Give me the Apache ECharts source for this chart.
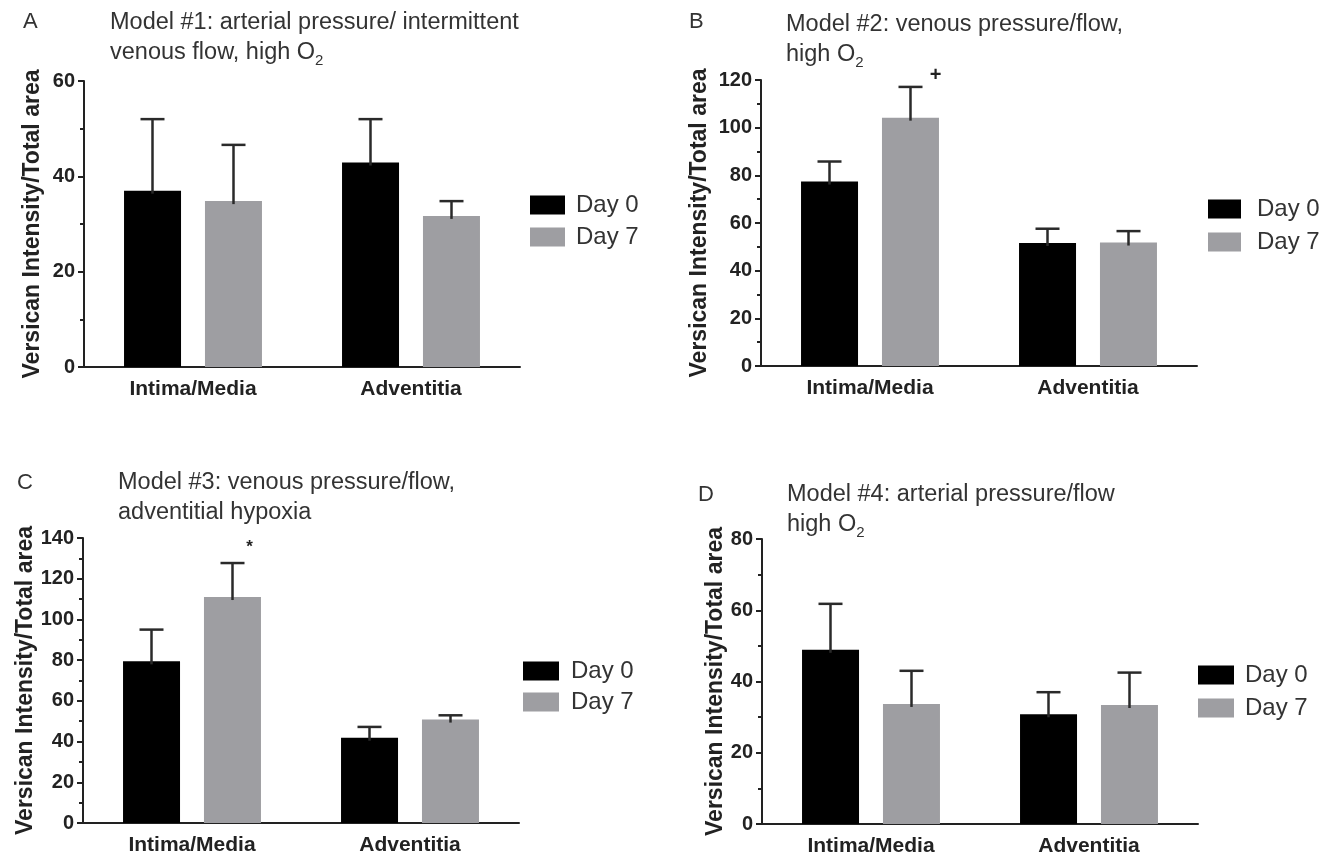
<!DOCTYPE html>
<html>
<head>
<meta charset="utf-8">
<script src="https://cdn.jsdelivr.net/npm/echarts@6/dist/echarts.min.js"></script>
<style>
html,body{margin:0;padding:0;background:#fff;}
#chart{width:1330px;height:859px;}
</style>
</head>
<body>
<div id="chart"></div>
<script>
// ---------------- data ----------------
const categories = ['Intima/Media', 'Adventitia'];
const seriesNames = ['Day 0', 'Day 7'];

const model1Day0 = [37.0, 42.9];
const model1Day0Err = [15.0, 9.1];
const model1Day7 = [34.8, 31.7];
const model1Day7Err = [11.8, 3.1];

const model2Day0 = [77.4, 51.6];
const model2Day0Err = [8.4, 6.0];
const model2Day7 = [104.2, 51.8];
const model2Day7Err = [12.9, 4.8];

const model3Day0 = [79.4, 41.9];
const model3Day0Err = [15.6, 5.3];
const model3Day7 = [111.0, 50.8];
const model3Day7Err = [16.7, 2.1];

const model4Day0 = [48.9, 30.8];
const model4Day0Err = [12.9, 6.2];
const model4Day7 = [33.7, 33.4];
const model4Day7Err = [9.3, 9.1];

const model2Day7Marks = ['+', ''];
const model3Day7Marks = ['*', ''];
const noMarks = ['', ''];

const yMaxes = [60, 120, 140, 80];
const yInterval = 20;
const panelLetters = ['A', 'B', 'C', 'D'];
const titleLine1 = ['Model #1: arterial pressure/ intermittent', 'Model #2: venous pressure/flow,', 'Model #3: venous pressure/flow,', 'Model #4: arterial pressure/flow'];
const titleLine2 = ['venous flow, high O', 'high O', 'adventitial hypoxia', 'high O'];
const titleSub = ['2', '2', '', '2'];
const yAxisName = 'Versican Intensity/Total area';

// ---------------- layout / style ----------------
const FONT = '"Liberation Sans", Arial, Helvetica, sans-serif';
const TXT = '#222';
const BLACK = '#000000';
const GRAY = '#9e9ea2';
const BAR_W = 57;
const BAR_GAP_PX = 24;
const HALF = (BAR_W + BAR_GAP_PX) / 2;

const grids = [
  {left: 84, top: 81, width: 436, height: 286},
  {left: 761, top: 80, width: 436, height: 286},
  {left: 83, top: 538, width: 436, height: 285},
  {left: 762, top: 539, width: 436, height: 285}
];
const nameGaps = [40, 50, 46, 30];
const letterPos = [{left: 18, top: 6}, {left: 684, top: 6}, {left: 12, top: 467}, {left: 693, top: 479}];
const titlePos = [{left: 105, top: 3}, {left: 781, top: 5}, {left: 113, top: 463}, {left: 782, top: 475}];
const legendPos = [
  {left: 525, top: 188, w: 35, gap: 8, pad: 6},
  {left: 1203, top: 192, w: 33, gap: 9, pad: 11},
  {left: 518, top: 654, w: 36, gap: 7, pad: 7},
  {left: 1193, top: 658, w: 36, gap: 9, pad: 6}
];
const markStyle = {
  '+': {dx: 25, dy: -11, size: 20},
  '*': {dx: 17, dy: -16, size: 17}
};

const panels = [
  {d0: model1Day0, e0: model1Day0Err, d7: model1Day7, e7: model1Day7Err, m7: noMarks},
  {d0: model2Day0, e0: model2Day0Err, d7: model2Day7, e7: model2Day7Err, m7: model2Day7Marks},
  {d0: model3Day0, e0: model3Day0Err, d7: model3Day7, e7: model3Day7Err, m7: model3Day7Marks},
  {d0: model4Day0, e0: model4Day0Err, d7: model4Day7, e7: model4Day7Err, m7: noMarks}
];

function errRenderer(offset, marks) {
  return function (params, api) {
    const c = api.value(0), v = api.value(1), e = api.value(2);
    const base = api.coord([c, v]);
    const top = api.coord([c, v + e]);
    const x = base[0] + offset;
    const st = {stroke: '#2a2a2a', lineWidth: 2.5};
    const children = [
      {type: 'line', shape: {x1: x, y1: base[1] + 3, x2: x, y2: top[1]}, style: st},
      {type: 'line', shape: {x1: x - 12, y1: top[1], x2: x + 12, y2: top[1]}, style: st}
    ];
    const m = marks[params.dataIndex];
    if (m) {
      const ms = markStyle[m];
      children.push({type: 'text', style: {text: m, x: x + ms.dx, y: top[1] + ms.dy, fill: TXT,
        font: 'bold ' + ms.size + 'px ' + FONT, textAlign: 'center', textVerticalAlign: 'middle'}});
    }
    return {type: 'group', children: children};
  };
}

const option = {
  backgroundColor: '#fff',
  animation: false,
  textStyle: {fontFamily: FONT},
  title: [],
  legend: [],
  grid: grids,
  xAxis: [],
  yAxis: [],
  series: []
};

panels.forEach(function (p, i) {
  option.title.push({text: panelLetters[i], left: letterPos[i].left, top: letterPos[i].top,
    textStyle: {fontSize: 22, fontWeight: 'normal', color: '#333', fontFamily: FONT}});
  const line2 = '{m|' + titleLine2[i] + '}' + (titleSub[i] ? '{s|' + titleSub[i] + '}' : '');
  option.title.push({text: '{m|' + titleLine1[i] + '}\n' + line2, left: titlePos[i].left, top: titlePos[i].top,
    textStyle: {fontWeight: 'normal', rich: {
      m: {fontSize: 23.5, lineHeight: 30, color: '#333', fontWeight: 'normal', fontFamily: FONT},
      s: {fontSize: 15, lineHeight: 17, verticalAlign: 'bottom', color: '#333', fontWeight: 'normal', fontFamily: FONT}
    }}});
  const lp = legendPos[i];
  option.legend.push({data: seriesNames, orient: 'vertical', left: lp.left, top: lp.top,
    itemWidth: lp.w, itemHeight: 19, itemGap: lp.gap, icon: 'rect', selectedMode: false,
    textStyle: {fontSize: 24, color: '#333', lineHeight: 24, fontFamily: FONT, padding: [0, 0, 0, lp.pad]}});
  option.xAxis.push({type: 'category', gridIndex: i, data: categories,
    axisLine: {lineStyle: {color: TXT, width: 2}},
    axisTick: {alignWithLabel: true, length: 5, lineStyle: {color: TXT, width: 2}},
    axisLabel: {fontSize: 21, fontWeight: 'bold', color: TXT, margin: 12, fontFamily: FONT}});
  option.yAxis.push({type: 'value', gridIndex: i, min: 0, max: yMaxes[i], interval: yInterval,
    name: yAxisName, nameLocation: 'middle', nameGap: nameGaps[i], nameRotate: 90,
    nameTextStyle: {fontSize: 23, fontWeight: 'bold', color: TXT, fontFamily: FONT},
    axisLine: {show: true, lineStyle: {color: TXT, width: 2}},
    axisTick: {show: true, length: 6, lineStyle: {color: TXT, width: 2}},
    minorTick: {show: true, splitNumber: 2, length: 4, lineStyle: {color: TXT, width: 2}},
    splitLine: {show: false},
    axisLabel: {fontSize: 20, fontWeight: 'bold', color: TXT, margin: 9, fontFamily: FONT}});
  option.series.push({name: seriesNames[0], type: 'bar', xAxisIndex: i, yAxisIndex: i, data: p.d0,
    barWidth: BAR_W, barGap: (BAR_GAP_PX / BAR_W * 100).toFixed(0) + '%', itemStyle: {color: BLACK}});
  option.series.push({name: seriesNames[1], type: 'bar', xAxisIndex: i, yAxisIndex: i, data: p.d7,
    barWidth: BAR_W, barGap: (BAR_GAP_PX / BAR_W * 100).toFixed(0) + '%', itemStyle: {color: GRAY}});
  option.series.push({type: 'custom', xAxisIndex: i, yAxisIndex: i, z: 5,
    data: p.d0.map(function (v, k) { return [k, v, p.e0[k]]; }),
    encode: {x: 0, y: 1}, renderItem: errRenderer(-HALF, noMarks)});
  option.series.push({type: 'custom', xAxisIndex: i, yAxisIndex: i, z: 5,
    data: p.d7.map(function (v, k) { return [k, v, p.e7[k]]; }),
    encode: {x: 0, y: 1}, renderItem: errRenderer(HALF, p.m7)});
});

const chart = echarts.init(document.getElementById('chart'), null, {renderer: 'canvas'});
chart.setOption(option);
</script>
</body>
</html>
